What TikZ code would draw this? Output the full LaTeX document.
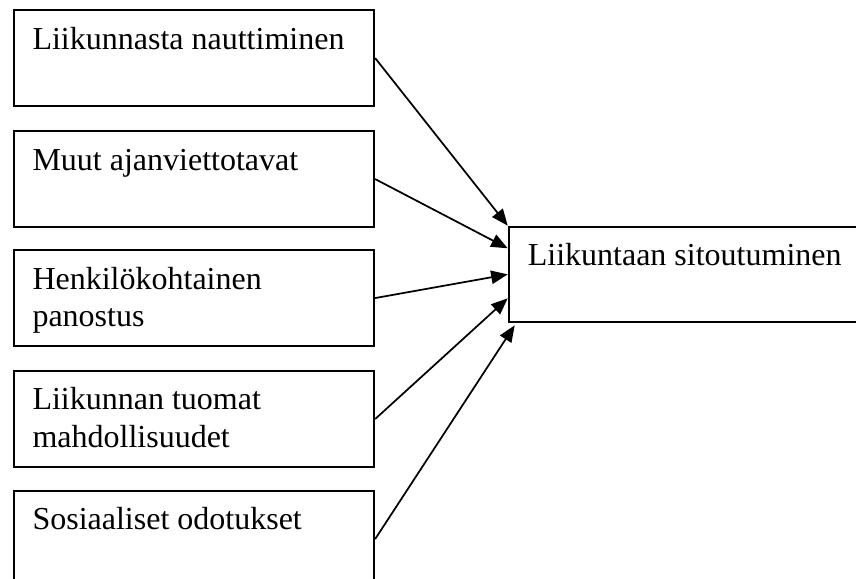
\documentclass[tikz,border=0pt]{standalone}
\usepackage{fontspec}
\setmainfont{Liberation Serif}
\usetikzlibrary{arrows.meta,calc}
\begin{document}
\begin{tikzpicture}[x=0.375pt,y=-0.375pt,
  box/.style={draw,line width=0.8pt,minimum width=135pt,minimum height=36pt,inner sep=0pt,anchor=north west},
  lbl/.style={anchor=base west,inner sep=0pt,font=\fontsize{12pt}{14pt}\selectfont},
  conn/.style={line width=0.65pt,-{Triangle[length=6.2pt,width=5pt]}}]
\clip (0,0) rectangle (856,579);
\fill[white] (0,0) rectangle (856,579);
% left boxes
\node[box] (b1) at (13,9) {};
\node[box] (b2) at (13,130) {};
\node[box] (b3) at (13,249) {};
\node[box] (b4) at (13,370) {};
\node[box] (b5) at (13,490) {};
% right box
\node[box,minimum width=140pt,minimum height=35.7pt] (R) at (507.7,225.7) {};
% labels
\node[lbl] (t1) at ($(b1.north west)+(19,41)$) {Liikunnasta nauttiminen};
\node[lbl] (t2) at ($(b2.north west)+(19,41)$) {Muut ajanviettotavat};
\node[lbl] (t3) at ($(b3.north west)+(19,40.5)$) {\parbox[t]{130pt}{Henkilökohtainen\\panostus}};
\node[lbl] (t4) at ($(b4.north west)+(19,40)$) {\parbox[t]{130pt}{Liikunnan tuomat\\mahdollisuudet}};
\node[lbl] (t5) at ($(b5.north west)+(19,40)$) {Sosiaaliset odotukset};
\node[lbl] (tR) at ($(R.north west)+(19.6,40.3)$) {Liikuntaan sitoutuminen};
% connectors
\draw[conn] (b1.east) -- (R.north west);
\draw[conn] (b2.east) -- ($(R.north west)+(0,22.6)$);
\draw[conn] (b3.east) -- (R.west);
\draw[conn] (b4.east) -- ($(R.north west)+(0,72.6)$);
\draw[conn] (b5.east) -- ($(R.south west)+(7,2.3)$);
\end{tikzpicture}
\end{document}
